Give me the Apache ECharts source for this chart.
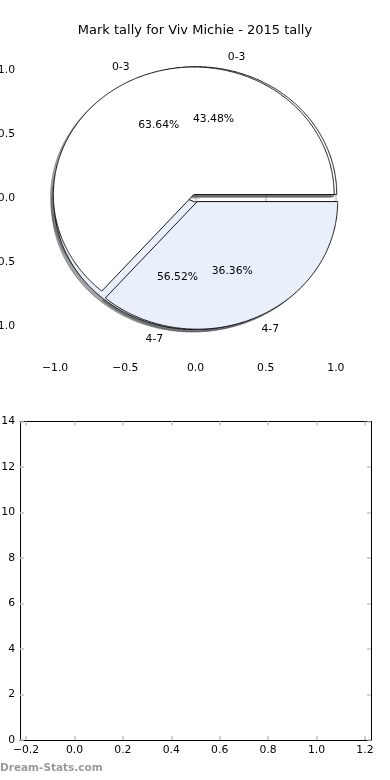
<!DOCTYPE html>
<html>
<head>
<meta charset="utf-8">
<script src="https://cdn.jsdelivr.net/npm/echarts@6/dist/echarts.min.js"></script>
<style>
html,body{margin:0;padding:0;background:#fff;}
#chart{width:390px;height:780px;}
</style>
</head>
<body>
<div id="chart"></div>
<script>
// ---- data ----
const categories = ['0-3', '4-7'];
const tallyA = [7, 4];    // 63.64% / 36.36%
const tallyB = [10, 13];  // 43.48% / 56.52%
const topTicks = [-1.0, -0.5, 0.0, 0.5, 1.0];
const bottomXTicks = [-0.2, 0.0, 0.2, 0.4, 0.6, 0.8, 1.0, 1.2];
const bottomYTicks = [0, 2, 4, 6, 8, 10, 12, 14];
const titleText = 'Mark tally for Viv Michie - 2015 tally';

// ---- style ----
const FONT = 'DejaVu Sans';
const wedgeColors = ['#ffffff', '#eaf0fb'];
const EXPLODE = 0.03;
const SHADOW_OFF = -0.02;
const tickColor = '#c4c4c4';

function geometry(values) {
  const total = values.reduce((a, b) => a + b, 0);
  let cum = 0;
  return values.map((v) => {
    const a1 = cum / total * 360;
    cum += v;
    const a2 = cum / total * 360;
    return { a1, a2, mid: (a1 + a2) / 2, pct: v / total * 100 };
  });
}
const geoA = geometry(tallyA);
const geoB = geometry(tallyB);

function wedgePoints(api, w, dx, dy) {
  const m = w.mid * Math.PI / 180;
  const cx = EXPLODE * Math.cos(m) + dx;
  const cy = EXPLODE * Math.sin(m) + dy;
  const pts = [api.coord([cx, cy])];
  for (let t = w.a1; t < w.a2; t += 0.5) {
    const r = t * Math.PI / 180;
    pts.push(api.coord([cx + Math.cos(r), cy + Math.sin(r)]));
  }
  const r2 = w.a2 * Math.PI / 180;
  pts.push(api.coord([cx + Math.cos(r2), cy + Math.sin(r2)]));
  return pts;
}

function shadowColor(hex) {
  const r = parseInt(hex.slice(1, 3), 16) * 0.3;
  const g = parseInt(hex.slice(3, 5), 16) * 0.3;
  const b = parseInt(hex.slice(5, 7), 16) * 0.3;
  return 'rgba(' + Math.round(r) + ',' + Math.round(g) + ',' + Math.round(b) + ',0.5)';
}

function wedgeSeries(values, geo, isShadow, z) {
  return {
    type: 'custom',
    coordinateSystem: 'cartesian2d',
    xAxisIndex: 0, yAxisIndex: 0,
    z: z,
    silent: true,
    data: values.map((v, i) => ({ name: categories[i], value: [0, 0, v] })),
    renderItem: function (params, api) {
      const i = params.dataIndex;
      const w = geo[i];
      if (isShadow) {
        const c = shadowColor(wedgeColors[i]);
        return {
          type: 'polygon',
          shape: { points: wedgePoints(api, w, SHADOW_OFF, SHADOW_OFF) },
          style: { fill: c, stroke: c, lineWidth: 0.9 }
        };
      }
      return {
        type: 'polygon',
        shape: { points: wedgePoints(api, w, 0, 0) },
        style: { fill: wedgeColors[i], stroke: '#000', lineWidth: 0.9, lineJoin: 'miter' }
      };
    }
  };
}

// label items: for each pie and wedge, a category label and a percent label
const labelItems = [];
[geoB, geoA].forEach((geo) => {
  geo.forEach((w, i) => {
    labelItems.push({ kind: 'name', text: categories[i], w });
    labelItems.push({ kind: 'pct', text: w.pct.toFixed(2) + '%', w });
  });
});

const labelSeries = {
  type: 'custom',
  coordinateSystem: 'cartesian2d',
  xAxisIndex: 0, yAxisIndex: 0,
  z: 10,
  silent: true,
  data: labelItems.map(() => [0, 0]),
  renderItem: function (params, api) {
    const it = labelItems[params.dataIndex];
    const m = it.w.mid * Math.PI / 180;
    const dist = it.kind === 'name' ? 1.1 : 0.6;
    const x = (EXPLODE + dist) * Math.cos(m);
    const y = (EXPLODE + dist) * Math.sin(m);
    const p = api.coord([x, y]);
    let align = 'center';
    if (it.kind === 'name') align = x > 0 ? 'left' : 'right';
    return {
      type: 'text',
      x: p[0], y: p[1],
      style: {
        text: it.text,
        fill: '#000',
        fontFamily: FONT,
        fontSize: 10.8,
        align: align,
        verticalAlign: 'middle'
      }
    };
  }
};

function fmt(v) {
  const s = Math.abs(v).toFixed(1);
  return (v < 0 ? '\u2212' : '') + s;
}

const tickStyle = { show: true, inside: true, length: 4, lineStyle: { color: tickColor, width: 1.5 } };
const labelStyle = { color: '#000', fontFamily: FONT, fontSize: 10.8 };

const option = {
  animation: false,
  backgroundColor: '#ffffff',
  title: {
    text: titleText,
    left: 'center',
    top: 19,
    textStyle: { fontFamily: FONT, fontSize: 13, fontWeight: 'normal', color: '#000' }
  },
  grid: [
    { left: 20, right: 19, top: 38.6, height: 319, containLabel: false, outerBoundsMode: 'none' },
    { left: 20, right: 19, top: 421.5, height: 318.5, containLabel: false, outerBoundsMode: 'none' }
  ],
  xAxis: [
    { gridIndex: 0, type: 'value', position: 'bottom', min: -1.25, max: 1.25,
      axisLine: { show: false }, splitLine: { show: false },
      axisTick: Object.assign({ customValues: topTicks }, tickStyle),
      axisLabel: Object.assign({ customValues: topTicks, margin: 5, formatter: fmt }, labelStyle) },
    { gridIndex: 0, type: 'value', position: 'top', min: -1.25, max: 1.25,
      axisLine: { show: false }, splitLine: { show: false },
      axisTick: Object.assign({ customValues: topTicks }, tickStyle),
      axisLabel: { show: false } },
    { gridIndex: 1, type: 'value', position: 'bottom', min: -0.225, max: 1.225,
      axisLine: { show: true, onZero: false, lineStyle: { color: '#000', width: 1 } }, splitLine: { show: false },
      axisTick: Object.assign({ customValues: bottomXTicks }, tickStyle),
      axisLabel: Object.assign({ customValues: bottomXTicks, margin: 5, formatter: fmt }, labelStyle) },
    { gridIndex: 1, type: 'value', position: 'top', min: -0.225, max: 1.225,
      axisLine: { show: true, onZero: false, lineStyle: { color: '#000', width: 1 } }, splitLine: { show: false },
      axisTick: Object.assign({ customValues: bottomXTicks }, tickStyle),
      axisLabel: { show: false } }
  ],
  yAxis: [
    { gridIndex: 0, type: 'value', position: 'left', min: -1.25, max: 1.25,
      axisLine: { show: false }, splitLine: { show: false },
      axisTick: Object.assign({ customValues: topTicks }, tickStyle),
      axisLabel: Object.assign({ customValues: topTicks, margin: 5, formatter: fmt }, labelStyle) },
    { gridIndex: 0, type: 'value', position: 'right', min: -1.25, max: 1.25,
      axisLine: { show: false }, splitLine: { show: false },
      axisTick: Object.assign({ customValues: topTicks }, tickStyle),
      axisLabel: { show: false } },
    { gridIndex: 1, type: 'value', position: 'left', min: 0, max: 14, interval: 2,
      axisLine: { show: true, onZero: false, lineStyle: { color: '#000', width: 1 } }, splitLine: { show: false },
      axisTick: Object.assign({ customValues: bottomYTicks }, tickStyle),
      axisLabel: Object.assign({ customValues: bottomYTicks, margin: 5 }, labelStyle) },
    { gridIndex: 1, type: 'value', position: 'right', min: 0, max: 14, interval: 2,
      axisLine: { show: true, onZero: false, lineStyle: { color: '#000', width: 1 } }, splitLine: { show: false },
      axisTick: Object.assign({ customValues: bottomYTicks }, tickStyle),
      axisLabel: { show: false } }
  ],
  graphic: [
    { type: 'text', left: 0, top: 763,
      style: { text: 'Dream-Stats.com', fill: '#9a9a9a', fontFamily: FONT, fontSize: 10.5, fontWeight: 'bold' } }
  ],
  series: [
    wedgeSeries(tallyB, geoB, true, 1),
    wedgeSeries(tallyA, geoA, true, 2),
    wedgeSeries(tallyB, geoB, false, 3),
    wedgeSeries(tallyA, geoA, false, 4),
    labelSeries
  ]
};

const chart = echarts.init(document.getElementById('chart'), null, { renderer: 'canvas' });
chart.setOption(option);
</script>
</body>
</html>
